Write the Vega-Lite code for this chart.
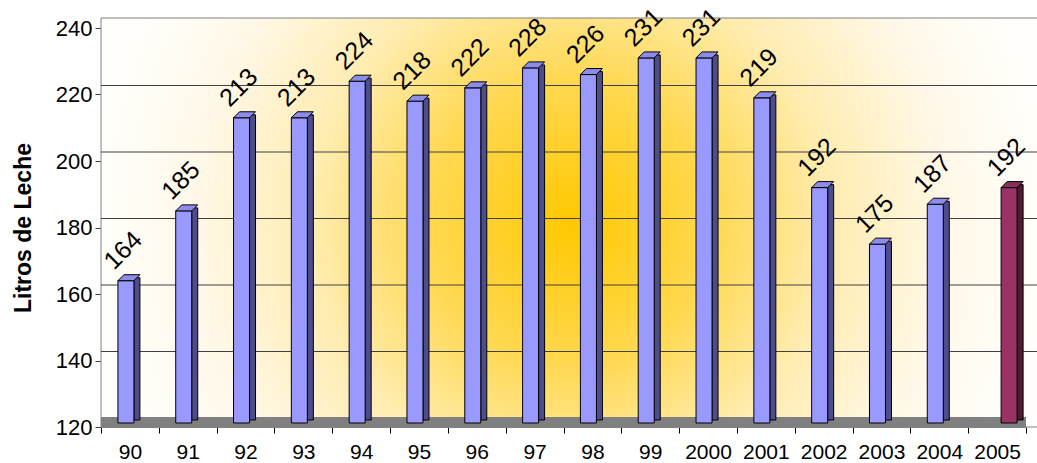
{
  "$schema": "https://vega.github.io/schema/vega-lite/v6.json",
  "width": 925,
  "height": 399,
  "autosize": {"type": "none"},
  "padding": {"left": 101, "top": 28, "right": 11, "bottom": 36},
  "background": "white",
  "config": {
    "font": "Liberation Sans",
    "axis": {"labelFont": "Liberation Sans", "titleFont": "Liberation Sans", "labelColor": "black", "titleColor": "black", "grid": false, "zindex": 1}
  },
  "view": {
    "stroke": null,
    "fill": {"gradient": "linear", "x1": 0, "y1": 0, "x2": 0, "y2": 1, "stops": [
      {"offset": 0, "color": "#FFFDF5"},
      {"offset": 0.2, "color": "#FFF1C8"},
      {"offset": 0.47, "color": "#FFC800"},
      {"offset": 0.75, "color": "#FFEFB8"},
      {"offset": 1, "color": "#FFFDF5"}
    ]}
  },
  "datasets": {
    "leche": [
      {"anio": "90", "litros": 164, "serie": "A"},
      {"anio": "91", "litros": 185, "serie": "A"},
      {"anio": "92", "litros": 213, "serie": "A"},
      {"anio": "93", "litros": 213, "serie": "A"},
      {"anio": "94", "litros": 224, "serie": "A"},
      {"anio": "95", "litros": 218, "serie": "A"},
      {"anio": "96", "litros": 222, "serie": "A"},
      {"anio": "97", "litros": 228, "serie": "A"},
      {"anio": "98", "litros": 226, "serie": "A"},
      {"anio": "99", "litros": 231, "serie": "A"},
      {"anio": "2000", "litros": 231, "serie": "A"},
      {"anio": "2001", "litros": 219, "serie": "A"},
      {"anio": "2002", "litros": 192, "serie": "A"},
      {"anio": "2003", "litros": 175, "serie": "A"},
      {"anio": "2004", "litros": 187, "serie": "A"},
      {"anio": "2005", "litros": 192, "serie": "B"}
    ],
    "rejilla": [{"v": 140}, {"v": 160}, {"v": 180}, {"v": 200}, {"v": 220}]
  },
  "layer": [
    {
      "data": {"values": [{"pared": "fondo"}]},
      "mark": {"type": "rect", "stroke": "#808080", "strokeWidth": 1, "xOffset": 16, "x2Offset": 11, "yOffset": -10, "y2Offset": -10,
        "fill": {"gradient": "radial", "x1": 0.5, "y1": 0.5, "r1": 0, "x2": 0.5, "y2": 0.5, "r2": 0.5, "stops": [
          {"offset": 0, "color": "#FFC800"},
          {"offset": 0.3, "color": "#FFD850"},
          {"offset": 0.55, "color": "#FFECB0"},
          {"offset": 0.8, "color": "#FFF8E8"},
          {"offset": 1, "color": "#FFFEFA"}
        ]}},
      "encoding": {}
    },
    {
      "data": {"name": "rejilla"},
      "mark": {"type": "rule", "color": "#404040", "strokeWidth": 1, "xOffset": 16, "x2Offset": 11, "yOffset": -9},
      "encoding": {"y": {"field": "v", "type": "quantitative", "title": "Litros de Leche"}}
    },
    {
      "data": {"values": [{"piso": 120}]},
      "mark": {"type": "rect", "fill": "#808080", "x2Offset": 11, "y2Offset": -10},
      "encoding": {
        "y": {"field": "piso", "type": "quantitative", "title": "Litros de Leche"},
        "y2": {"field": "piso"}
      }
    },
    {
      "data": {"name": "leche"},
      "mark": {"type": "bar", "width": 6, "xOffset": {"expr": "datum.serie === 'B' ? 23 : 7"}, "yOffset": -3, "y2Offset": -7, "stroke": "black", "strokeWidth": 1},
      "encoding": {
        "x": {"field": "anio", "type": "nominal", "sort": null},
        "y": {"field": "litros", "type": "quantitative", "title": "Litros de Leche"},
        "y2": {"datum": 120},
        "color": {"condition": {"test": "datum.serie === 'B'", "value": "#4D1A33"}, "value": "#4D4D8C"}
      }
    },
    {
      "data": {"name": "leche"},
      "mark": {"type": "bar", "width": 16, "xOffset": {"expr": "datum.serie === 'B' ? 12 : -4"}, "y2Offset": -4, "stroke": "black", "strokeWidth": 1},
      "encoding": {
        "x": {"field": "anio", "type": "nominal", "sort": null,
          "scale": {"paddingInner": 0, "paddingOuter": 0},
          "axis": {"title": null, "labelAngle": 0, "labelAlign": "center", "labelFontSize": 21, "labelPadding": 19, "tickSize": 6, "tickBand": "extent", "tickColor": "#000000", "domainColor": "#808080"}},
        "y": {"field": "litros", "type": "quantitative", "title": "Litros de Leche",
          "scale": {"domain": [120, 240], "nice": false, "zero": false},
          "axis": {"values": [120, 140, 160, 180, 200, 220, 240], "labelFontSize": 22, "labelPadding": 3, "tickSize": 6, "tickColor": "#404040", "domainColor": "#808080", "titleFontSize": 23, "titleFontWeight": "bold", "titlePadding": 20}},
        "y2": {"datum": 120},
        "color": {"condition": {"test": "datum.serie === 'B'", "value": "#993366"}, "value": "#9999FF"}
      }
    },
    {
      "data": {"name": "leche"},
      "mark": {"type": "point", "filled": true, "opacity": 1, "size": 484, "shape": "M-1,0.2727L0.4545,0.2727L1,-0.2727L-0.4545,-0.2727Z", "stroke": "black", "strokeWidth": 1, "xOffset": {"expr": "datum.serie === 'B' ? 15 : -1"}, "yOffset": -3},
      "encoding": {
        "x": {"field": "anio", "type": "nominal", "sort": null},
        "y": {"field": "litros", "type": "quantitative", "title": "Litros de Leche"},
        "color": {"condition": {"test": "datum.serie === 'B'", "value": "#8A2E5C"}, "value": "#8C8CEB"}
      }
    },
    {
      "data": {"name": "leche"},
      "mark": {"type": "text", "fontSize": 25, "angle": 315, "align": "left", "baseline": "alphabetic", "xOffset": {"expr": "datum.serie === 'B' ? 10 : -6"}, "dy": -14, "color": "black"},
      "encoding": {
        "x": {"field": "anio", "type": "nominal", "sort": null},
        "y": {"field": "litros", "type": "quantitative", "title": "Litros de Leche"},
        "text": {"field": "litros", "type": "quantitative"}
      }
    }
  ]
}
